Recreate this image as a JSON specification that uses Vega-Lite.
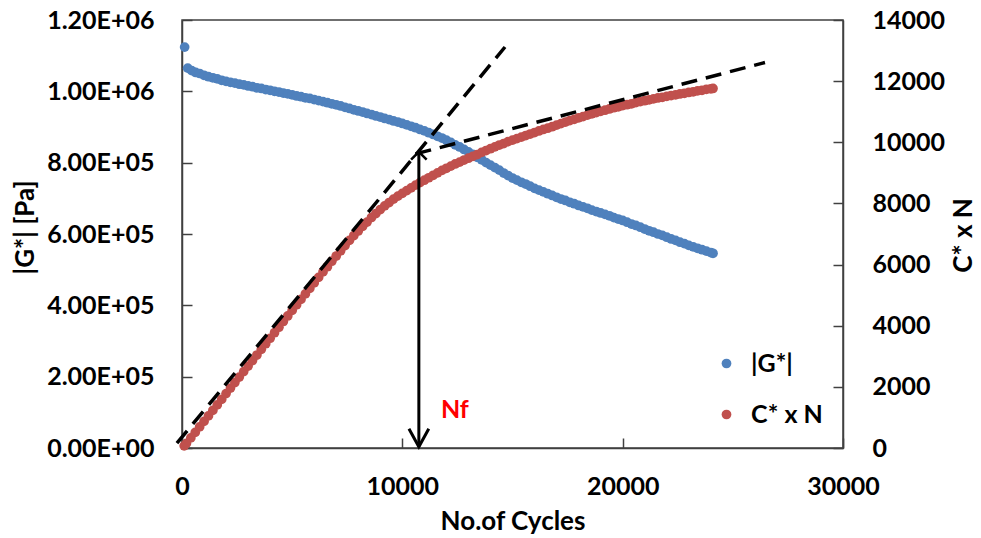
{
  "$schema": "https://vega.github.io/schema/vega-lite/v6.json",
  "width": 661,
  "height": 428,
  "autosize": {"type": "none"},
  "padding": {"left": 182, "top": 20, "right": 138, "bottom": 90},
  "background": "white",
  "config": {
    "font": "Lato",
    "view": {"stroke": "#404040", "strokeWidth": 1.5},
    "axis": {
      "grid": false,
      "labelFlush": false,
      "domainColor": "#404040",
      "domainWidth": 1.5,
      "tickColor": "#404040",
      "tickWidth": 1.5,
      "tickSize": -10,
      "labelFont": "Lato",
      "labelFontSize": 25,
      "labelFontWeight": "bold",
      "labelColor": "#000000",
      "titleFont": "Lato",
      "titleFontSize": 26,
      "titleFontWeight": "bold",
      "titleColor": "#000000"
    }
  },
  "datasets": {
    "gstar": [
      {"N":120,"G":1124000},{"N":260,"G":1065000},{"N":440,"G":1058000},{"N":620,"G":1053000},
      {"N":800,"G":1050000},{"N":1000,"G":1045000},{"N":1200,"G":1041000},{"N":1400,"G":1038000},
      {"N":1600,"G":1035000},{"N":1800,"G":1031000},{"N":2000,"G":1028000},{"N":2200,"G":1025000},
      {"N":2400,"G":1023000},{"N":2600,"G":1020000},{"N":2800,"G":1018000},{"N":3000,"G":1015000},
      {"N":3200,"G":1013000},{"N":3400,"G":1010000},{"N":3600,"G":1008000},{"N":3800,"G":1005000},
      {"N":4000,"G":1003000},{"N":4200,"G":1000000},{"N":4400,"G":998000},{"N":4600,"G":995000},
      {"N":4800,"G":993000},{"N":5000,"G":990000},{"N":5200,"G":987000},{"N":5400,"G":985000},
      {"N":5600,"G":982000},{"N":5800,"G":980000},{"N":6000,"G":977000},{"N":6200,"G":974000},
      {"N":6400,"G":971000},{"N":6600,"G":968000},{"N":6800,"G":965000},{"N":7000,"G":962000},
      {"N":7200,"G":959000},{"N":7400,"G":955000},{"N":7600,"G":952000},{"N":7800,"G":948000},
      {"N":8000,"G":945000},{"N":8200,"G":942000},{"N":8400,"G":938000},{"N":8600,"G":935000},
      {"N":8800,"G":931000},{"N":9000,"G":928000},{"N":9200,"G":924000},{"N":9400,"G":921000},
      {"N":9600,"G":917000},{"N":9800,"G":914000},{"N":10000,"G":910000},{"N":10200,"G":906000},
      {"N":10400,"G":902000},{"N":10600,"G":898000},{"N":10800,"G":893000},{"N":11000,"G":889000},
      {"N":11200,"G":884000},{"N":11400,"G":879000},{"N":11600,"G":874000},{"N":11800,"G":869000},
      {"N":12000,"G":863000},{"N":12200,"G":857000},{"N":12400,"G":850000},{"N":12600,"G":844000},
      {"N":12800,"G":837000},{"N":13000,"G":830000},{"N":13200,"G":823000},{"N":13400,"G":815000},
      {"N":13600,"G":808000},{"N":13800,"G":800000},{"N":14000,"G":793000},{"N":14200,"G":786000},
      {"N":14400,"G":779000},{"N":14600,"G":771000},{"N":14800,"G":764000},{"N":15000,"G":757000},
      {"N":15200,"G":751000},{"N":15400,"G":745000},{"N":15600,"G":740000},{"N":15800,"G":734000},
      {"N":16000,"G":728000},{"N":16200,"G":723000},{"N":16400,"G":718000},{"N":16600,"G":713000},
      {"N":16800,"G":708000},{"N":17000,"G":703000},{"N":17200,"G":698000},{"N":17400,"G":694000},
      {"N":17600,"G":689000},{"N":17800,"G":685000},{"N":18000,"G":680000},{"N":18200,"G":676000},
      {"N":18400,"G":672000},{"N":18600,"G":667000},{"N":18800,"G":663000},{"N":19000,"G":659000},
      {"N":19200,"G":655000},{"N":19400,"G":651000},{"N":19600,"G":646000},{"N":19800,"G":642000},
      {"N":20000,"G":638000},{"N":20200,"G":633000},{"N":20400,"G":628000},{"N":20600,"G":624000},
      {"N":20800,"G":619000},{"N":21000,"G":614000},{"N":21200,"G":609000},{"N":21400,"G":605000},
      {"N":21600,"G":600000},{"N":21800,"G":596000},{"N":22000,"G":591000},{"N":22200,"G":586000},
      {"N":22400,"G":582000},{"N":22600,"G":577000},{"N":22800,"G":573000},{"N":23000,"G":568000},
      {"N":23200,"G":564000},{"N":23400,"G":560000},{"N":23600,"G":556000},{"N":23800,"G":552000},
      {"N":24000,"G":548000},{"N":24100,"G":546000}
    ],
    "cstar": [
      {"N":100,"CN":70},{"N":200,"CN":150},{"N":400,"CN":330},{"N":600,"CN":510},{"N":800,"CN":690},
      {"N":1000,"CN":870},{"N":1200,"CN":1050},{"N":1400,"CN":1230},{"N":1600,"CN":1410},{"N":1800,"CN":1590},
      {"N":2000,"CN":1780},{"N":2200,"CN":1960},{"N":2400,"CN":2140},{"N":2600,"CN":2320},{"N":2800,"CN":2500},
      {"N":3000,"CN":2680},{"N":3200,"CN":2860},{"N":3400,"CN":3040},{"N":3600,"CN":3230},{"N":3800,"CN":3410},
      {"N":4000,"CN":3590},{"N":4200,"CN":3770},{"N":4400,"CN":3950},{"N":4600,"CN":4140},{"N":4800,"CN":4320},
      {"N":5000,"CN":4500},{"N":5200,"CN":4680},{"N":5400,"CN":4860},{"N":5600,"CN":5040},{"N":5800,"CN":5220},
      {"N":6000,"CN":5400},{"N":6200,"CN":5580},{"N":6400,"CN":5760},{"N":6600,"CN":5930},{"N":6800,"CN":6110},
      {"N":7000,"CN":6280},{"N":7200,"CN":6450},{"N":7400,"CN":6620},{"N":7600,"CN":6790},{"N":7800,"CN":6950},
      {"N":8000,"CN":7100},{"N":8200,"CN":7250},{"N":8400,"CN":7390},{"N":8600,"CN":7540},{"N":8800,"CN":7670},
      {"N":9000,"CN":7800},{"N":9200,"CN":7920},{"N":9400,"CN":8030},{"N":9600,"CN":8140},{"N":9800,"CN":8240},
      {"N":10000,"CN":8330},{"N":10200,"CN":8420},{"N":10400,"CN":8510},{"N":10600,"CN":8600},{"N":10800,"CN":8680},
      {"N":11000,"CN":8760},{"N":11200,"CN":8840},{"N":11400,"CN":8920},{"N":11600,"CN":9000},{"N":11800,"CN":9080},
      {"N":12000,"CN":9150},{"N":12200,"CN":9220},{"N":12400,"CN":9290},{"N":12600,"CN":9350},{"N":12800,"CN":9420},
      {"N":13000,"CN":9480},{"N":13200,"CN":9540},{"N":13400,"CN":9600},{"N":13600,"CN":9670},{"N":13800,"CN":9730},
      {"N":14000,"CN":9790},{"N":14200,"CN":9850},{"N":14400,"CN":9910},{"N":14600,"CN":9960},{"N":14800,"CN":10020},
      {"N":15000,"CN":10070},{"N":15200,"CN":10120},{"N":15400,"CN":10170},{"N":15600,"CN":10220},{"N":15800,"CN":10270},
      {"N":16000,"CN":10320},{"N":16200,"CN":10370},{"N":16400,"CN":10420},{"N":16600,"CN":10460},{"N":16800,"CN":10510},
      {"N":17000,"CN":10560},{"N":17200,"CN":10610},{"N":17400,"CN":10660},{"N":17600,"CN":10710},{"N":17800,"CN":10750},
      {"N":18000,"CN":10800},{"N":18200,"CN":10840},{"N":18400,"CN":10890},{"N":18600,"CN":10930},{"N":18800,"CN":10970},
      {"N":19000,"CN":11010},{"N":19200,"CN":11050},{"N":19400,"CN":11090},{"N":19600,"CN":11130},{"N":19800,"CN":11160},
      {"N":20000,"CN":11200},{"N":20200,"CN":11230},{"N":20400,"CN":11260},{"N":20600,"CN":11300},{"N":20800,"CN":11330},
      {"N":21000,"CN":11360},{"N":21200,"CN":11390},{"N":21400,"CN":11420},{"N":21600,"CN":11450},{"N":21800,"CN":11470},
      {"N":22000,"CN":11500},{"N":22200,"CN":11530},{"N":22400,"CN":11550},{"N":22600,"CN":11580},{"N":22800,"CN":11600},
      {"N":23000,"CN":11630},{"N":23200,"CN":11650},{"N":23400,"CN":11680},{"N":23600,"CN":11700},{"N":23800,"CN":11730},
      {"N":24000,"CN":11750},{"N":24100,"CN":11760}
    ],
    "tangents": [
      {"seg":"initial","N":-230,"CN":160},{"seg":"initial","N":14660,"CN":13117},
      {"seg":"final","N":10600,"CN":9620},{"seg":"final","N":26460,"CN":12610}
    ],
    "arrow": [{"N":10750,"CN":9690,"CN2":40}],
    "arrowTip": [{"N":10750,"CN":40}],
    "arrowTop": [{"N":10750,"CN":9690}],
    "label": [{"N":11750,"CN":1250,"text":"Nf"}]
  },
  "layer": [
    {
      "data": {"name": "gstar"},
      "mark": {"type": "circle", "size": 95, "opacity": 1},
      "encoding": {
        "x": {
          "field": "N", "type": "quantitative",
          "scale": {"domain": [0, 30000], "nice": false, "zero": false},
          "axis": {"title": "No.of Cycles", "values": [0, 10000, 20000, 30000], "format": "d", "labelFlush": false, "labelPadding": 36, "titleY": 73, "titleBaseline": "middle"}
        },
        "y": {
          "field": "G", "type": "quantitative",
          "scale": {"domain": [0, 1200000], "nice": false},
          "axis": {
            "title": "|G*| [Pa]",
            "values": [0, 200000, 400000, 600000, 800000, 1000000, 1200000],
            "labelExpr": "datum.value >= 1000000 ? format(datum.value / 1000000, '.2f') + 'E+06' : (datum.value > 0 ? format(datum.value / 100000, '.2f') + 'E+05' : '0.00E+00')",
            "labelPadding": 38,
            "titleX": -157, "titleY": 207, "titleBaseline": "middle", "titleAlign": "center"
          }
        },
        "color": {
          "datum": "|G*|", "type": "nominal",
          "scale": {"domain": ["|G*|", "C* x N"], "range": ["#4F81BD", "#C0504D"]},
          "legend": {
            "orient": "none", "legendX": 532, "legendY": 331, "title": null,
            "symbolType": "circle", "symbolSize": 95, "symbolStrokeWidth": 0, "symbolOpacity": 1,
            "labelFont": "Lato", "labelFontSize": 25, "labelFontWeight": "bold", "labelColor": "#000000",
            "labelOffset": 12, "rowPadding": 25
          }
        }
      }
    },
    {
      "layer": [
        {
          "data": {"name": "cstar"},
          "mark": {"type": "circle", "size": 95, "opacity": 1},
          "encoding": {
            "x": {"field": "N", "type": "quantitative", "scale": {"domain": [0, 30000], "nice": false, "zero": false}},
            "y": {
              "field": "CN", "type": "quantitative",
              "scale": {"domain": [0, 14000], "nice": false},
              "axis": {
                "orient": "right", "title": "C* x N",
                "values": [0, 2000, 4000, 6000, 8000, 10000, 12000, 14000], "format": "d",
                "labelPadding": 39, "titleAngle": 270, "titleX": 120, "titleY": 215, "titleBaseline": "middle", "titleAlign": "center"
              }
            },
            "color": {"datum": "C* x N", "type": "nominal"}
          }
        },
        {
          "data": {"name": "tangents"},
          "mark": {"type": "line", "color": "#000000", "strokeWidth": 3.5, "strokeDash": [16, 9]},
          "encoding": {
            "x": {"field": "N", "type": "quantitative", "scale": {"domain": [0, 30000], "nice": false, "zero": false}},
            "y": {"field": "CN", "type": "quantitative", "scale": {"domain": [0, 14000], "nice": false}},
            "detail": {"field": "seg", "type": "nominal"}
          }
        },
        {
          "data": {"name": "arrow"},
          "mark": {"type": "rule", "color": "#000000", "strokeWidth": 3},
          "encoding": {
            "x": {"field": "N", "type": "quantitative", "scale": {"domain": [0, 30000], "nice": false, "zero": false}},
            "y": {"field": "CN", "type": "quantitative", "scale": {"domain": [0, 14000], "nice": false}},
            "y2": {"field": "CN2"}
          }
        },
        {
          "data": {"name": "arrowTip"},
          "mark": {"type": "point", "shape": "M-0.55,-1L0,0L0.55,-1", "size": 1296, "filled": false, "stroke": "#000000", "strokeWidth": 3, "opacity": 1},
          "encoding": {
            "x": {"field": "N", "type": "quantitative", "scale": {"domain": [0, 30000], "nice": false, "zero": false}},
            "y": {"field": "CN", "type": "quantitative", "scale": {"domain": [0, 14000], "nice": false}}
          }
        },
        {
          "data": {"name": "arrowTop"},
          "mark": {"type": "point", "shape": "M-0.9,0.9L0,0L0.9,0.9", "size": 300, "filled": false, "stroke": "#000000", "strokeWidth": 2.5, "opacity": 1},
          "encoding": {
            "x": {"field": "N", "type": "quantitative", "scale": {"domain": [0, 30000], "nice": false, "zero": false}},
            "y": {"field": "CN", "type": "quantitative", "scale": {"domain": [0, 14000], "nice": false}}
          }
        },
        {
          "data": {"name": "label"},
          "mark": {"type": "text", "align": "left", "baseline": "middle", "font": "Lato", "fontSize": 25, "fontWeight": "bold", "color": "#FF0000"},
          "encoding": {
            "x": {"field": "N", "type": "quantitative", "scale": {"domain": [0, 30000], "nice": false, "zero": false}},
            "y": {"field": "CN", "type": "quantitative", "scale": {"domain": [0, 14000], "nice": false}},
            "text": {"field": "text"}
          }
        }
      ]
    }
  ],
  "resolve": {"scale": {"y": "independent"}}
}
